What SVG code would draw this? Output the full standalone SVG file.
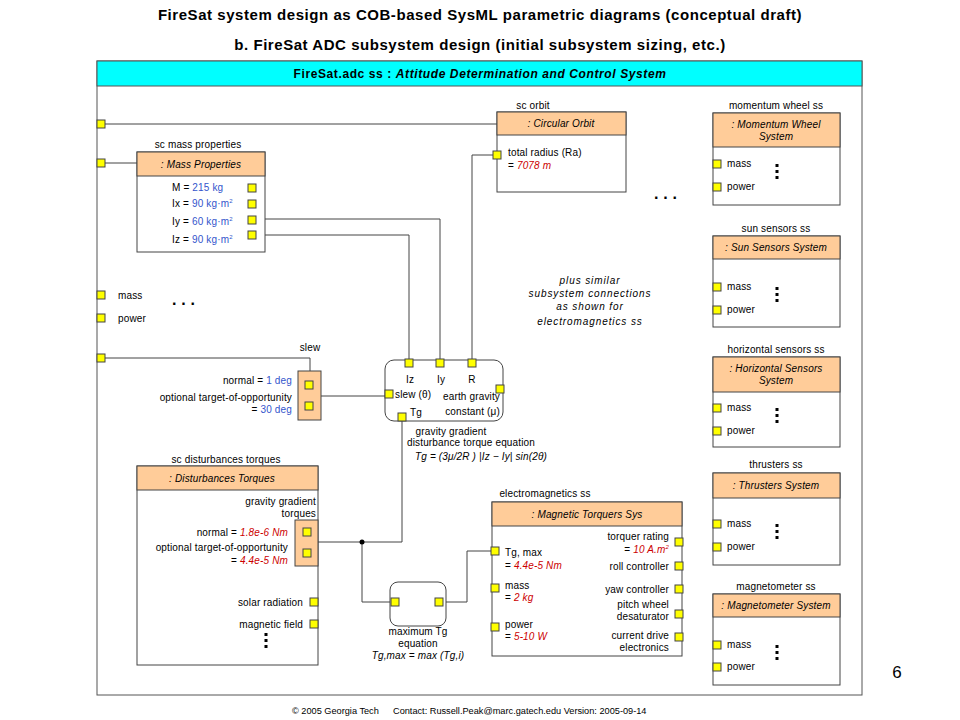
<svg xmlns="http://www.w3.org/2000/svg" width="960" height="720" viewBox="0 0 960 720">
<style>
text{font-family:"Liberation Sans",Arial,sans-serif;font-size:10px;fill:#000;letter-spacing:0.15px}
.t{font-size:15px;font-weight:bold;letter-spacing:0.55px}
.hd{font-size:12px;font-weight:bold;letter-spacing:0.6px}
.it{font-style:italic}
.ps{letter-spacing:0.9px}
.blue{fill:#3355CC}
.red{fill:#CC0000;font-style:italic}
.sup{font-size:6px}
.ft{font-size:9.2px;letter-spacing:0}
.box{fill:#fff;stroke:#444;stroke-width:1}
.hdr{fill:#FFCC99;stroke:#444;stroke-width:1}
.port{fill:#FFFF00;stroke:#444;stroke-width:1}
.ln{fill:none;stroke:#444;stroke-width:1}
.m{text-anchor:middle}
.e{text-anchor:end}
.dots{font-size:16px;font-weight:bold}
.d{fill:#000}
</style>
<defs>
<g id="vd"><rect class="d" x="-1.5" y="0" width="3" height="3"/><rect class="d" x="-1.5" y="6" width="3" height="3"/><rect class="d" x="-1.5" y="12" width="3" height="3"/></g>
</defs>
<rect width="960" height="720" fill="#fff"/>
<text class="t m" x="480" y="20">FireSat system design as COB-based SysML parametric diagrams (conceptual draft)</text>
<text class="t m" x="480" y="50">b. FireSat ADC subsystem design (initial subsystem sizing, etc.)</text>

<g id="frame">
<rect x="97" y="61" width="765" height="634" fill="#fff" stroke="#555" stroke-width="1"/>
<rect x="97" y="61" width="765" height="25" fill="#00FFFF" stroke="#555" stroke-width="1"/>
<text class="hd m" x="480" y="78">FireSat.adc ss : <tspan class="it">Attitude Determination and Control System</tspan></text>
<rect class="port" x="97" y="120" width="8" height="8"/>
<rect class="port" x="97" y="159" width="8" height="8"/>
<rect class="port" x="97" y="291" width="8" height="8"/>
<rect class="port" x="97" y="314" width="8" height="8"/>
<rect class="port" x="97" y="354" width="8" height="8"/>
<text x="118" y="299">mass</text>
<text x="118" y="322">power</text>
<text class="dots" x="172" y="305">. . .</text>
<text class="dots" x="654" y="199">. . .</text>
</g>

<g id="connectors">
<path class="ln" d="M105,124 H497"/>
<path class="ln" d="M105,163 H137"/>
<path class="ln" d="M105,358 H310 V371"/>
<path class="ln" d="M256,219 H440 V359"/>
<path class="ln" d="M256,235 H409 V359"/>
<path class="ln" d="M493,155 H472 V359"/>
<path class="ln" d="M321,396 H385"/>
<path class="ln" d="M402,421 V542 H318"/>
<path class="ln" d="M362,542 V602 H391"/>
<path class="ln" d="M443,602 H467 V551 H491"/>
<circle cx="362" cy="542" r="2.5" fill="#000"/>
</g>

<g id="mass-properties">
<text class="m" x="198" y="148">sc mass properties</text>
<rect class="box" x="137" y="152" width="128" height="100"/>
<rect class="hdr" x="137" y="152" width="128" height="24"/>
<text class="it m" x="201" y="168">: Mass Properties</text>
<text x="172" y="191">M = <tspan class="blue">215 kg</tspan></text>
<text x="172" y="207">Ix = <tspan class="blue">90 kg·m</tspan><tspan class="blue sup" dy="-4">2</tspan></text>
<text x="172" y="225">Iy = <tspan class="blue">60 kg·m</tspan><tspan class="blue sup" dy="-4">2</tspan></text>
<text x="172" y="243">Iz = <tspan class="blue">90 kg·m</tspan><tspan class="blue sup" dy="-4">2</tspan></text>
<rect class="port" x="248" y="184" width="8" height="8"/>
<rect class="port" x="248" y="200" width="8" height="8"/>
<rect class="port" x="248" y="216" width="8" height="8"/>
<rect class="port" x="248" y="231" width="8" height="8"/>
</g>

<g id="sc-orbit">
<text class="m" x="533" y="109">sc orbit</text>
<rect class="box" x="497" y="112" width="129" height="80"/>
<rect class="hdr" x="497" y="112" width="129" height="23"/>
<text class="it m" x="561" y="127">: Circular Orbit</text>
<text x="508" y="156">total radius (Ra)</text>
<text x="508" y="169">= <tspan class="red">7078 m</tspan></text>
<rect class="port" x="493" y="151" width="8" height="8"/>
</g>

<g id="plus-similar">
<text class="it m ps" x="590" y="284">plus similar</text>
<text class="it m ps" x="590" y="297">subsystem connections</text>
<text class="it m ps" x="590" y="310">as shown for</text>
<text class="it m ps" x="590" y="325">electromagnetics ss</text>
</g>

<g id="momentum-wheel">
<text class="m" x="776" y="109">momentum wheel ss</text>
<rect class="box" x="713" y="113" width="127" height="92"/>
<rect class="hdr" x="713" y="113" width="127" height="34"/>
<text class="it m" x="776" y="128">: Momentum Wheel</text>
<text class="it m" x="776" y="140">System</text>
<rect class="port" x="713" y="160" width="8" height="8"/><text x="727" y="167">mass</text>
<rect class="port" x="713" y="183" width="8" height="8"/><text x="727" y="190">power</text>
<use href="#vd" x="777" y="164"/>
</g>

<g id="sun-sensors">
<text class="m" x="776" y="232">sun sensors ss</text>
<rect class="box" x="713" y="236" width="127" height="91"/>
<rect class="hdr" x="713" y="236" width="127" height="23"/>
<text class="it m" x="776" y="251">: Sun Sensors System</text>
<rect class="port" x="713" y="283" width="8" height="8"/><text x="727" y="290">mass</text>
<rect class="port" x="713" y="306" width="8" height="8"/><text x="727" y="313">power</text>
<use href="#vd" x="777" y="287"/>
</g>

<g id="horizontal-sensors">
<text class="m" x="776" y="353">horizontal sensors ss</text>
<rect class="box" x="713" y="357" width="127" height="90"/>
<rect class="hdr" x="713" y="357" width="127" height="35"/>
<text class="it m" x="776" y="372">: Horizontal Sensors</text>
<text class="it m" x="776" y="384">System</text>
<rect class="port" x="713" y="404" width="8" height="8"/><text x="727" y="411">mass</text>
<rect class="port" x="713" y="427" width="8" height="8"/><text x="727" y="434">power</text>
<use href="#vd" x="777" y="408"/>
</g>

<g id="thrusters">
<text class="m" x="776" y="468">thrusters ss</text>
<rect class="box" x="713" y="473" width="127" height="92"/>
<rect class="hdr" x="713" y="473" width="127" height="25"/>
<text class="it m" x="776" y="489">: Thrusters System</text>
<rect class="port" x="713" y="520" width="8" height="8"/><text x="727" y="527">mass</text>
<rect class="port" x="713" y="543" width="8" height="8"/><text x="727" y="550">power</text>
<use href="#vd" x="777" y="524"/>
</g>

<g id="magnetometer">
<text class="m" x="776" y="590">magnetometer ss</text>
<rect class="box" x="713" y="594" width="127" height="91"/>
<rect class="hdr" x="713" y="594" width="127" height="23"/>
<text class="it m" x="776" y="609">: Magnetometer System</text>
<rect class="port" x="713" y="641" width="8" height="8"/><text x="727" y="648">mass</text>
<rect class="port" x="713" y="663" width="8" height="8"/><text x="727" y="670">power</text>
<use href="#vd" x="777" y="645"/>
</g>

<g id="slew">
<text class="m" x="310" y="351">slew</text>
<rect class="hdr" x="298" y="371" width="23" height="49"/>
<rect class="port" x="305" y="381" width="8" height="8"/>
<rect class="port" x="305" y="402" width="8" height="8"/>
<text class="e" x="292" y="384">normal = <tspan class="blue">1 deg</tspan></text>
<text class="e" x="292" y="401">optional target-of-opportunity</text>
<text class="e" x="292" y="413">= <tspan class="blue">30 deg</tspan></text>
</g>

<g id="gravity-equation">
<rect class="box" x="385" y="360" width="118" height="61" rx="9"/>
<rect class="port" x="405" y="359" width="8" height="8"/>
<rect class="port" x="436" y="359" width="8" height="8"/>
<rect class="port" x="468" y="359" width="8" height="8"/>
<rect class="port" x="385" y="390" width="8" height="8"/>
<rect class="port" x="496" y="385" width="8" height="8"/>
<rect class="port" x="398" y="413" width="8" height="8"/>
<text class="m" x="410" y="383">Iz</text>
<text class="m" x="441" y="383">Iy</text>
<text class="m" x="472" y="383">R</text>
<text x="395" y="398">slew (θ)</text>
<text x="410" y="416">Tg</text>
<text class="e" x="500" y="400">earth gravity</text>
<text class="e" x="500" y="415">constant (μ)</text>
<text class="m" x="451" y="435">gravity gradient</text>
<text class="m" x="471" y="446">disturbance torque equation</text>
<text class="it m" x="481" y="460">Tg = (3μ/2R ) |Iz − Iy| sin(2θ)</text>
</g>

<g id="disturbances">
<text class="m" x="226" y="463">sc disturbances torques</text>
<rect class="box" x="137" y="466" width="181" height="199"/>
<rect class="hdr" x="137" y="466" width="181" height="24"/>
<text class="it m" x="222" y="482">: Disturbances Torques</text>
<text class="e" x="316" y="505">gravity gradient</text>
<text class="e" x="316" y="517">torques</text>
<rect class="hdr" x="295" y="520" width="23" height="46"/>
<rect class="port" x="303" y="528" width="8" height="8"/>
<rect class="port" x="303" y="549" width="8" height="8"/>
<text class="e" x="288" y="536">normal = <tspan class="red">1.8e-6 Nm</tspan></text>
<text class="e" x="288" y="551">optional target-of-opportunity</text>
<text class="e" x="288" y="564">= <tspan class="red">4.4e-5 Nm</tspan></text>
<text class="e" x="303" y="606">solar radiation</text>
<rect class="port" x="310" y="598" width="8" height="8"/>
<text class="e" x="303" y="628">magnetic field</text>
<rect class="port" x="310" y="620" width="8" height="8"/>
<use href="#vd" x="266" y="633"/>
</g>

<g id="max-tg">
<rect class="box" x="390" y="582" width="56" height="44" rx="8"/>
<rect class="port" x="391" y="598" width="8" height="8"/>
<rect class="port" x="435" y="598" width="8" height="8"/>
<text class="m" x="418" y="635">maximum Tg</text>
<text class="m" x="418" y="647">equation</text>
<text class="it m" x="418" y="659">Tg,max = max (Tg,i)</text>
</g>

<g id="electromagnetics">
<text class="m" x="545" y="497">electromagnetics ss</text>
<rect class="box" x="492" y="502" width="190" height="154"/>
<rect class="hdr" x="492" y="502" width="190" height="24"/>
<text class="it m" x="587" y="518">: Magnetic Torquers Sys</text>
<rect class="port" x="491" y="547" width="8" height="8"/>
<rect class="port" x="491" y="584" width="8" height="8"/>
<rect class="port" x="491" y="623" width="8" height="8"/>
<text x="505" y="556">Tg, max</text>
<text x="505" y="569">= <tspan class="red">4.4e-5 Nm</tspan></text>
<text x="505" y="589">mass</text>
<text x="505" y="601">= <tspan class="red">2 kg</tspan></text>
<text x="505" y="628">power</text>
<text x="505" y="640">= <tspan class="red">5-10 W</tspan></text>
<rect class="port" x="675" y="538" width="8" height="8"/>
<rect class="port" x="675" y="562" width="8" height="8"/>
<rect class="port" x="675" y="585" width="8" height="8"/>
<rect class="port" x="675" y="610" width="8" height="8"/>
<rect class="port" x="675" y="633" width="8" height="8"/>
<text class="e" x="669" y="540">torquer rating</text>
<text class="e" x="669" y="553">= <tspan class="red">10 A.m</tspan><tspan class="red sup" dy="-4">2</tspan></text>
<text class="e" x="669" y="570">roll controller</text>
<text class="e" x="669" y="593">yaw controller</text>
<text class="e" x="669" y="608">pitch wheel</text>
<text class="e" x="669" y="620">desaturator</text>
<text class="e" x="669" y="639">current drive</text>
<text class="e" x="669" y="651">electronics</text>
</g>

<text x="897" y="678" style="font-size:17px" text-anchor="middle">6</text>
<text class="ft" x="292" y="714">© 2005 Georgia Tech</text>
<text class="ft" x="393" y="714">Contact: Russell.Peak@marc.gatech.edu Version: 2005-09-14</text>
</svg>
